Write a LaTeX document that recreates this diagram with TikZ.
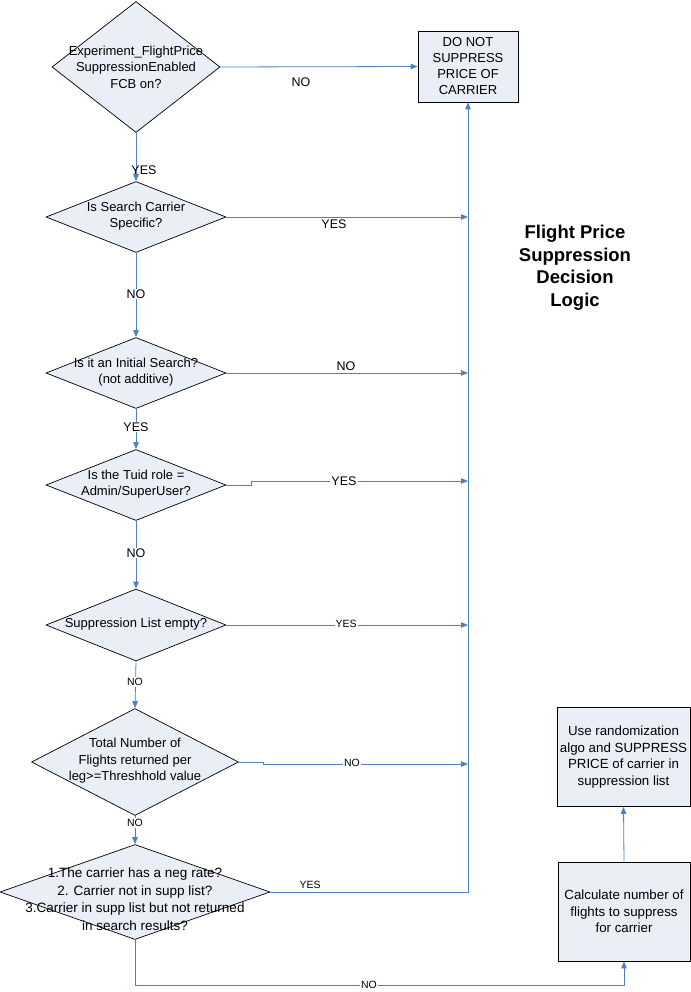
\documentclass[tikz,border=0pt]{standalone}
\usepackage{fontspec}
\setmainfont{Liberation Sans}
\usetikzlibrary{shapes.geometric,arrows.meta}
\definecolor{fillc}{RGB}{233,238,247}
\definecolor{linec}{RGB}{79,129,189}
\begin{document}
\begin{tikzpicture}[x=1pt,y=-1pt,
 dia/.style={diamond,draw=black,fill=fillc,line width=0.7pt,inner sep=0pt},
 box/.style={rectangle,draw=black,fill=fillc,line width=0.7pt,inner sep=0pt},
 txt/.style={align=center,inner sep=0pt,font=\fontsize{13}{16.5}\selectfont},
 conn/.style={draw=linec,line width=0.8pt},
 arr/.style={conn,-{Triangle[length=7pt,width=5.5pt]}},
 lbl/.style={font=\fontsize{12.5}{15}\selectfont,inner sep=1pt},
 slbl/.style={font=\fontsize{10.5}{12}\selectfont,fill=white,inner sep=1pt},
 title/.style={align=center,font=\bfseries\fontsize{18.5}{22.5}\selectfont}]
\useasboundingbox (0,0) rectangle (690,992);
\fill[white] (0,0) rectangle (690,992);
% diamonds
\node[dia,minimum width=168pt,minimum height=131pt] (d1) at (136,67) {};
\node[txt] (t1) at (d1) {Experiment\_FlightPrice\\SuppressionEnabled\\FCB on?};
\node[dia,minimum width=180pt,minimum height=71pt] (d2) at (136,217) {};
\node[txt] (t2) at (136,216) {Is Search Carrier\\Specific?};
\node[dia,minimum width=180pt,minimum height=71pt] (d3) at (136,373) {};
\node[txt] (t3) at (136,372) {Is it an Initial Search?\\(not additive)};
\node[dia,minimum width=180pt,minimum height=71pt] (d4) at (136,485) {};
\node[txt] (t4) at (136,484) {Is the Tuid role =\\Admin/SuperUser?};
\node[dia,minimum width=180pt,minimum height=72pt] (d5) at (136,625) {};
\node[txt] (t5) at (136,624) {Suppression List empty?};
\node[dia,minimum width=207pt,minimum height=107pt] (d6) at (135,762) {};
\node[txt] (t6) at (135,761) {Total Number of\\Flights returned per\\leg>=Threshhold value};
\node[dia,minimum width=270pt,minimum height=95pt] (d7) at (135,892) {};
\node[txt,font=\fontsize{13.5}{17.5}\selectfont] (t7) at (135,899) {1.The carrier has a neg rate?\\2. Carrier not in supp list?\\3.Carrier in supp list but not returned\\in search results?};
% boxes
\node[box,minimum width=100pt,minimum height=71pt] (bA) at (468,66.5) {};
\node[txt,font=\fontsize{13}{16}\selectfont] (tA) at (bA) {DO NOT\\SUPPRESS\\PRICE OF\\CARRIER};
\node[box,minimum width=133pt,minimum height=99pt] (bB) at (623.5,757) {};
\node[txt,font=\fontsize{13.3}{16.5}\selectfont] (tB) at (bB) {Use randomization\\algo and SUPPRESS\\PRICE of carrier in\\suppression list};
\node[box,minimum width=132pt,minimum height=99pt] (bC) at (624,911.5) {};
\node[txt,font=\fontsize{13.3}{16.5}\selectfont] (tC) at (bC) {Calculate number of\\flights to suppress\\for carrier};
% title
\node[title] (ttl) at (575,268) {Flight Price\\Suppression\\Decision\\Logic};
% connectors
\draw[arr] (d1.east) -- (bA.west);
\node[lbl] (l1) at (301,82) {NO};
\draw[arr] (d1.south) -- (d2.north);
\node[lbl] (l2) at (144,170) {YES};
\draw[arr] (d2.east) -- (d2.east -| bA.south);
\node[lbl] (l3) at (334,224) {YES};
\draw[arr] (d2.south) -- (d3.north);
\node[lbl,fill=white] (l4) at (136,294) {NO};
\draw[arr] (d3.east) -- (d3.east -| bA.south);
\node[lbl,fill=white] (l5) at (346,366) {NO};
\draw[arr] (d3.south) -- (d4.north);
\node[lbl,fill=white] (l6) at (136,427) {YES};
\coordinate (j4a) at (251,485);
\coordinate (j4b) at (251,481);
\draw[arr] (d4.east) -- (j4a) -- (j4b) -- (j4b -| bA.south);
\node[lbl,fill=white] (l7) at (344,481) {YES};
\draw[arr] (d4.south) -- (d5.north);
\node[lbl,fill=white] (l8) at (136,553) {NO};
\draw[arr] (d5.east) -- (d5.east -| bA.south);
\node[slbl] (l9) at (346,624) {YES};
\draw[arr] (d5.south) -- (d6.north);
\node[slbl] (l10) at (135,682) {NO};
\coordinate (j6a) at (263,762);
\coordinate (j6b) at (263,764);
\draw[arr] (d6.east) -- (j6a) -- (j6b) -- (j6b -| bA.south);
\node[slbl] (l11) at (352,763) {NO};
\draw[arr] (d6.south) -- (d7.north);
\node[slbl] (l12) at (135,823) {NO};
\draw[arr] (d7.east) -| (bA.south);
\node[slbl,fill=none] (l13) at (310,885) {YES};
\coordinate (b7) at (135,985);
\draw[arr] (d7.south) -- (b7) -| (bC.south);
\node[slbl] (l14) at (369,985) {NO};
\draw[arr] (bC.north) -- (bB.south);
\end{tikzpicture}
\end{document}
